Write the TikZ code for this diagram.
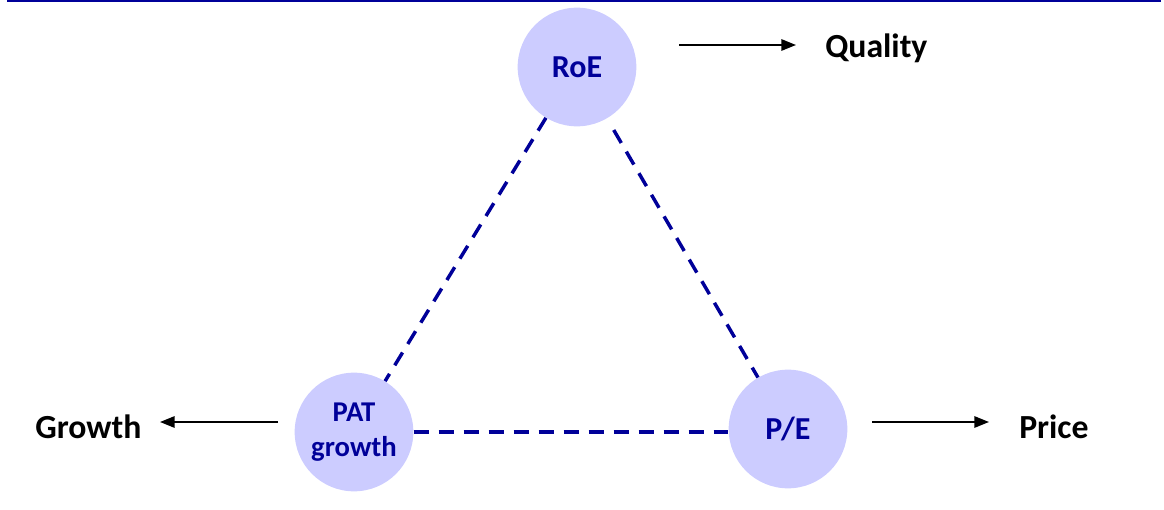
\documentclass[tikz,border=0pt]{standalone}
\usepackage{fontspec}
\setmainfont{Carlito}
\usetikzlibrary{arrows.meta}
\definecolor{navyb}{HTML}{000099}
\definecolor{circfill}{HTML}{CCCCFF}
\begin{document}
\begin{tikzpicture}[x=0.75pt,y=-0.75pt,
 ball/.style={circle,fill=circfill,minimum size=89pt,inner sep=0pt,text=navyb,align=center},
 bigtxt/.style={font=\bfseries\fontsize{24}{28}\selectfont},
 smalltxt/.style={font=\bfseries\fontsize{21.5}{26}\selectfont},
 lbl/.style={anchor=west,inner sep=0pt,font=\bfseries\fontsize{25.3}{29}\selectfont},
 link/.style={draw=navyb,line width=2.6pt,dash pattern=on 11.25pt off 7.5pt},
 pointer/.style={draw=black,line width=1.5pt,-{Triangle[length=11pt,width=8.5pt]}}]
\useasboundingbox (0,0) rectangle (1164,510);
\coordinate (tl) at (7,1);
\coordinate (tr) at (1161,1);
\draw[navyb,line width=1.5pt] (tl) -- (tr);

\node[ball,bigtxt] (roe) at (577,67) {RoE};
\node[ball,smalltxt] (pat) at (354,432) {PAT\\growth};
\node[ball,bigtxt] (pe) at (788,429) {P/E};

\draw[link] (roe) -- (pat);
\draw[link,shorten <=10pt] (roe) -- (pe);
\draw[link] (pat.east) -- (pe.west |- pat.east);

\node[lbl] (quality) at (825,48) {Quality};
\node[lbl] (growth) at (35,427) {Growth};
\node[lbl] (price) at (1019,427) {Price};

\coordinate (q1) at (679,45);
\coordinate (q2) at (796,45);
\coordinate (g1) at (278,422);
\coordinate (g2) at (160,422);
\coordinate (p1) at (872,422);
\coordinate (p2) at (989,422);
\draw[pointer] (q1) -- (q2);
\draw[pointer] (g1) -- (g2);
\draw[pointer] (p1) -- (p2);
\end{tikzpicture}
\end{document}
